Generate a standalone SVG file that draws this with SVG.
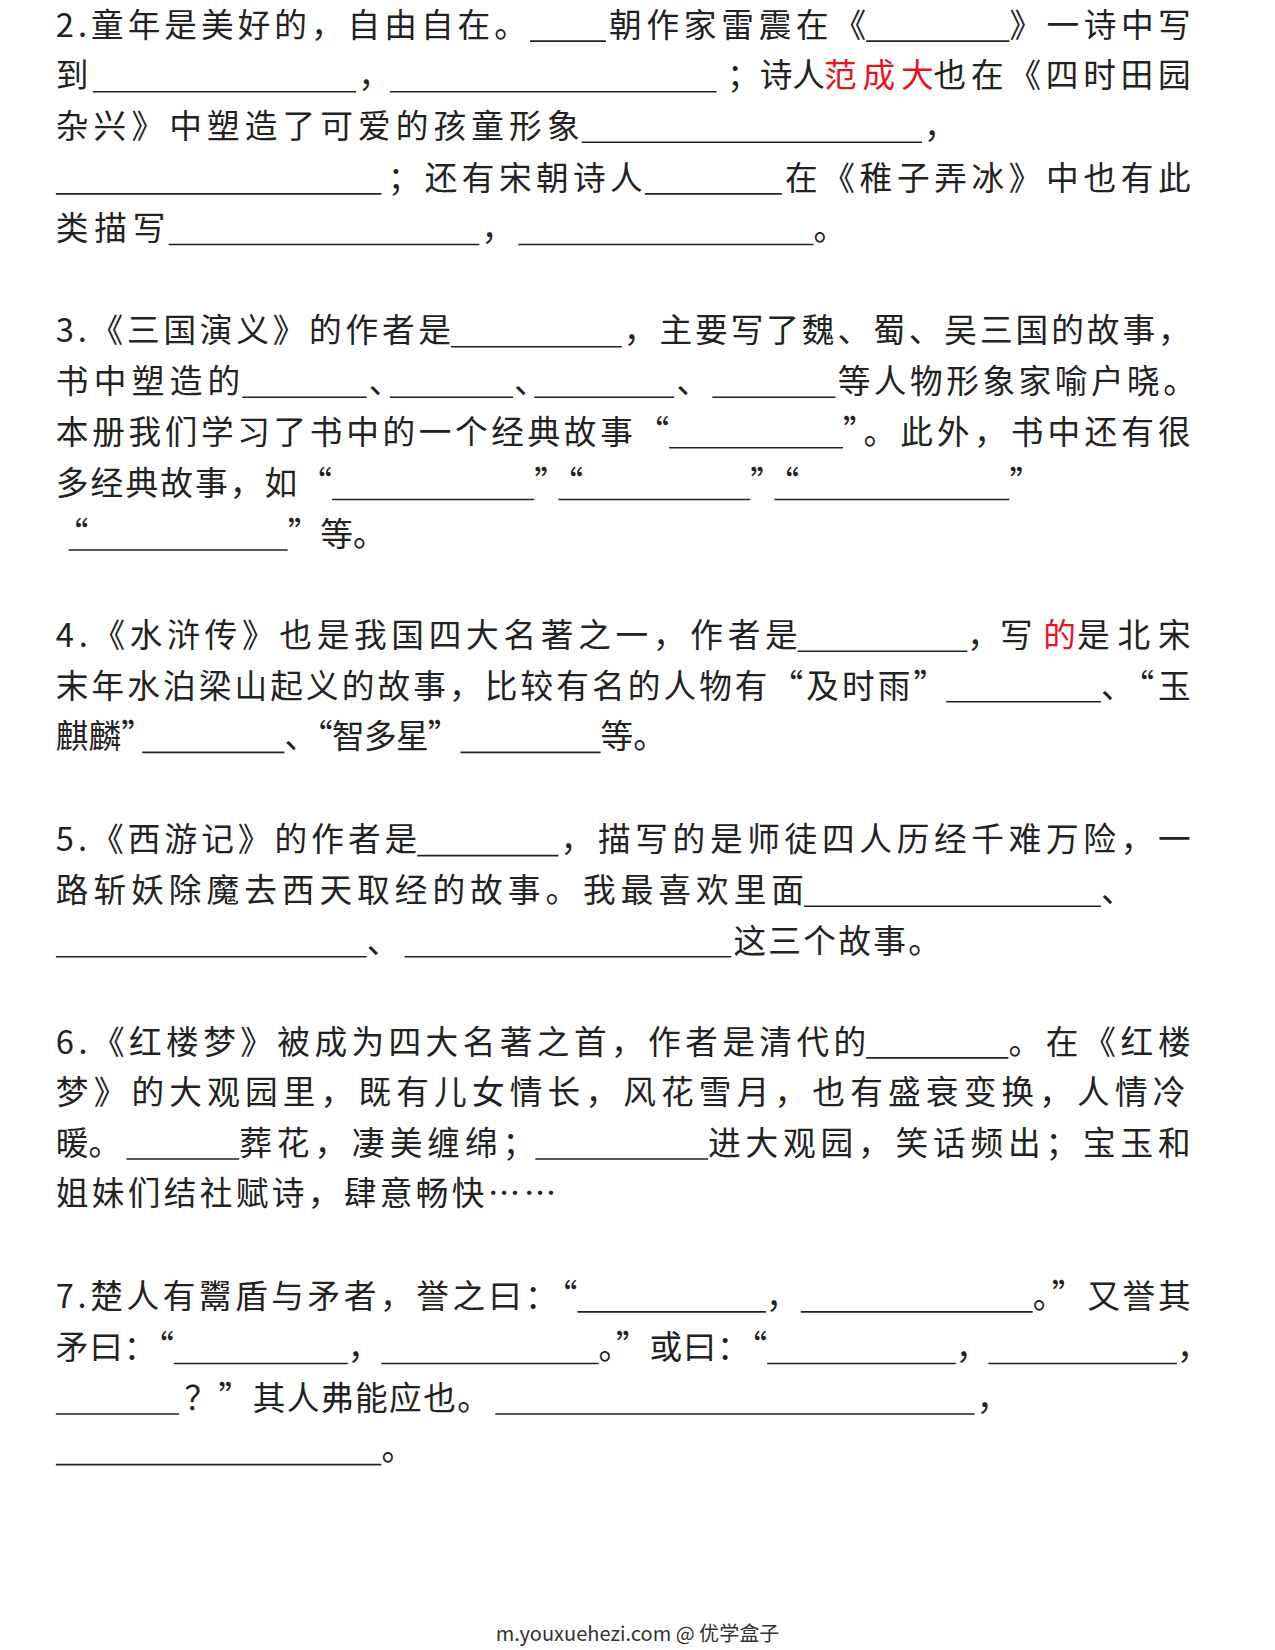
<svg xmlns="http://www.w3.org/2000/svg" width="1275" height="1650" viewBox="0 0 1275 1650">
<style>
text{font-family:"Noto Sans CJK SC","Noto Sans",sans-serif;font-size:31px;fill:#222}
.r{fill:#e8141b}
.u{stroke:#222;stroke-width:1.5;fill:none}
.f{font-size:19px;fill:#333}
</style>
<rect width="1275" height="1650" fill="#fff"/>
<g transform="scale(1.0537)">
<g id="q2">
<text x="53" y="35" textLength="447">2.童年是美好的，自由自在。</text>
<text x="578" y="35" textLength="244">朝作家雷震在《</text>
<text x="958" y="35" textLength="172">》一诗中写</text>
<text x="53" y="83">到</text>
<text x="340" y="83">，</text>
<text x="690" y="83">；诗人</text>
<text x="782" y="83" class="r" textLength="104">范成大</text>
<text x="886" y="83" textLength="244">也在《四时田园</text>
<text x="53" y="131" textLength="497">杂兴》中塑造了可爱的孩童形象</text>
<text x="877" y="131">，</text>
<text x="368" y="180" textLength="242">；还有宋朝诗人</text>
<text x="745" y="180" textLength="385">在《稚子弄冰》中也有此</text>
<text x="53" y="228" textLength="104">类描写</text>
<text x="457" y="228">，</text>
<text x="772" y="228">。</text>
<path class="u" d="M503 39H575M822 39H958M88 87H338M370 87H680M552 135H875M53 184H362M612 184H742M160 232H455M492 232H772"/>
</g>
<g id="q3">
<text x="53" y="325" textLength="375">3.《三国演义》的作者是</text>
<text x="592" y="325" textLength="538">，主要写了魏、蜀、吴三国的故事，</text>
<text x="53" y="373" textLength="175">书中塑造的</text>
<text x="350" y="373">、</text>
<text x="488" y="373">、</text>
<text x="642" y="373">、</text>
<text x="795" y="373" textLength="340">等人物形象家喻户晓。</text>
<text x="53" y="421" textLength="582">本册我们学习了书中的一个经典故事“</text>
<text x="800" y="421" textLength="330">”。此外，书中还有很</text>
<text x="53" y="470" textLength="262">多经典故事，如“</text>
<text x="507" y="470">”“</text>
<text x="712" y="470">”“</text>
<text x="958" y="470">”</text>
<text x="53" y="518">“</text>
<text x="273" y="518">”等。</text>
<path class="u" d="M428 329H590M230 377H348M370 377H487M507 377H640M676 377H793M635 425H800M315 474H507M530 474H712M735 474H958M65 522H273"/>
</g>
<g id="q4">
<text x="53" y="614" textLength="704">4.《水浒传》也是我国四大名著之一，作者是</text>
<text x="918" y="614">，写</text>
<text x="990" y="614" class="r">的</text>
<text x="1022" y="614" textLength="108">是北宋</text>
<text x="53" y="662" textLength="845">末年水泊梁山起义的故事，比较有名的人物有“及时雨”</text>
<text x="1045" y="662" textLength="85">、“玉</text>
<text x="53" y="710">麒麟”</text>
<text x="270" y="710" textLength="167">、“智多星”</text>
<text x="570" y="710">等。</text>
<path class="u" d="M757 618H918M898 666H1045M135 714H270M437 714H570"/>
</g>
<g id="q5">
<text x="53" y="808" textLength="343">5.《西游记》的作者是</text>
<text x="532" y="808" textLength="598">，描写的是师徒四人历经千难万险，一</text>
<text x="53" y="856" textLength="710">路斩妖除魔去西天取经的故事。我最喜欢里面</text>
<text x="1045" y="856">、</text>
<text x="348" y="904">、</text>
<text x="696" y="904" textLength="197">这三个故事。</text>
<path class="u" d="M396 812H530M763 860H1045M53 908H348M384 908H694"/>
</g>
<g id="q6">
<text x="53" y="1000" textLength="769">6.《红楼梦》被成为四大名著之首，作者是清代的</text>
<text x="957" y="1000" textLength="173">。在《红楼</text>
<text x="53" y="1048" textLength="1072">梦》的大观园里，既有儿女情长，风花雪月，也有盛衰变换，人情冷</text>
<text x="53" y="1096">暖。</text>
<text x="227" y="1096" textLength="281">葬花，凄美缠绵；</text>
<text x="672" y="1096" textLength="458">进大观园，笑话频出；宝玉和</text>
<text x="53" y="1144" textLength="475">姐妹们结社赋诗，肆意畅快……</text>
<path class="u" d="M822 1004H957M120 1100H227M508 1100H672"/>
</g>
<g id="q7">
<text x="53" y="1241" textLength="495">7.楚人有鬻盾与矛者，誉之曰：“</text>
<text x="727" y="1241">，</text>
<text x="980" y="1241" textLength="150">。”又誉其</text>
<text x="53" y="1290" textLength="112">矛曰：“</text>
<text x="330" y="1290">，</text>
<text x="568" y="1290" textLength="160">。”或曰：“</text>
<text x="907" y="1290">，</text>
<text x="1117" y="1290">，</text>
<text x="175" y="1338" textLength="290">？”其人弗能应也。</text>
<text x="927" y="1338">，</text>
<text x="362" y="1386">。</text>
<path class="u" d="M548 1245H727M760 1245H980M165 1294H330M362 1294H568M728 1294H907M938 1294H1117M53 1342H170M470 1342H925M53 1390H362"/>
</g>
<text class="f" x="605" y="1557" text-anchor="middle">m.youxuehezi.com @ 优学盒子</text>
</g>
</svg>
